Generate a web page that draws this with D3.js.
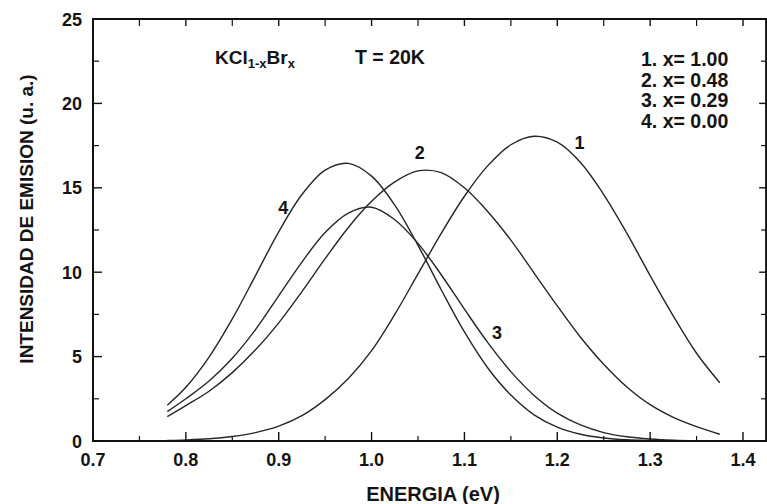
<!DOCTYPE html>
<html>
<head>
<meta charset="utf-8">
<script src="https://cdn.jsdelivr.net/npm/d3@7"></script>
<style>
  body { margin: 0; background: #fff; }
  svg { display: block; }
  text { font-family: "Liberation Sans", Arial, sans-serif; font-weight: bold; fill: #141414; }
</style>
</head>
<body>
<svg id="chart" width="767" height="504"></svg>
<script>
var energia = [0.78, 0.80, 0.825, 0.85, 0.875, 0.90, 0.925, 0.95, 0.975, 1.00, 1.025, 1.05, 1.075,
  1.10, 1.125, 1.15, 1.175, 1.20, 1.225, 1.25, 1.275, 1.30, 1.325, 1.35, 1.375];

// intensity (u. a.) per composition
var curva1 = [0.03, 0.06, 0.13, 0.27, 0.5, 0.88, 1.5, 2.45, 3.7, 5.35, 7.5, 9.9, 12.3,
  14.5, 16.3, 17.55, 18.05, 17.7, 16.5, 14.6, 12.3, 9.8, 7.4, 5.2, 3.45];
var curva2 = [1.44, 2.1, 2.95, 4.05, 5.4, 7.0, 8.85, 10.8, 12.65, 14.2, 15.35, 16.0, 15.9,
  15.0, 13.6, 11.9, 9.95, 8.0, 6.15, 4.55, 3.2, 2.15, 1.4, 0.85, 0.4];
var curva3 = [1.74, 2.5, 3.55, 4.9, 6.6, 8.6, 10.6, 12.35, 13.5, 13.85, 13.11, 11.71, 9.85,
  7.81, 5.84, 4.11, 2.7, 1.65, 0.95, 0.5, 0.25, 0.12, 0.05, 0.02, 0.01];
var curva4 = [2.12, 3.18, 4.97, 7.23, 9.8, 12.39, 14.6, 16.05, 16.45, 15.69, 13.97, 11.59, 8.96,
  6.46, 4.34, 2.72, 1.55, 0.82, 0.4, 0.18, 0.07, 0.03, 0.01, 0, 0];

var xTicks = [0.7, 0.8, 0.9, 1.0, 1.1, 1.2, 1.3, 1.4];
var yTicks = [0, 5, 10, 15, 20, 25];
var leyenda = ["1. x= 1.00", "2. x= 0.48", "3. x= 0.29", "4. x= 0.00"];
// curve number labels: [label, energy, intensity] at the baseline
var etiquetas = [["1", 1.224, 17.3], ["2", 1.052, 16.7], ["3", 1.135, 6.05], ["4", 0.905, 13.45]];

var svg = d3.select("#chart");
// careful: "top" is taken by window.top, so plot edges get their own names
var pLeft = 93, pTop = 19, pBottom = 441;

var x = d3.scaleLinear().domain([0.7, 1.4]).range([pLeft, 743]);
var y = d3.scaleLinear().domain([0, 25]).range([pBottom, pTop]);
var pRight = x(1.4249);

// curves
var line = d3.line()
  .x(function(d) { return x(d[0]); })
  .y(function(d) { return y(Math.max(0, d[1])); })
  .curve(d3.curveCatmullRom.alpha(0.5));

[curva1, curva2, curva3, curva4].forEach(function(serie) {
  svg.append("path")
    .datum(energia.map(function(e, i) { return [e, serie[i]]; }))
    .attr("d", line)
    .attr("fill", "none")
    .attr("stroke", "#262626")
    .attr("stroke-width", 1.4);
});

// frame
var ax = svg.append("g").attr("stroke", "#111").attr("fill", "none");
ax.append("rect")
  .attr("x", pLeft).attr("y", pTop)
  .attr("width", pRight - pLeft).attr("height", pBottom - pTop)
  .attr("stroke-width", 2);

// ticks, all pointing inward
var xMinor = d3.range(0.75, 1.42, 0.1);
var yMinor = d3.range(2.5, 25, 5);
xTicks.forEach(function(t) {
  ax.append("line").attr("x1", x(t)).attr("x2", x(t)).attr("y1", pBottom).attr("y2", pBottom - 9).attr("stroke-width", 1.4);
  ax.append("line").attr("x1", x(t)).attr("x2", x(t)).attr("y1", pTop).attr("y2", pTop + 7).attr("stroke-width", 1.4);
});
xMinor.forEach(function(t) {
  ax.append("line").attr("x1", x(t)).attr("x2", x(t)).attr("y1", pBottom).attr("y2", pBottom - 5).attr("stroke-width", 1.2);
  ax.append("line").attr("x1", x(t)).attr("x2", x(t)).attr("y1", pTop).attr("y2", pTop + 7).attr("stroke-width", 1.2);
});
yTicks.forEach(function(t) {
  ax.append("line").attr("x1", pLeft).attr("x2", pLeft + 9).attr("y1", y(t)).attr("y2", y(t)).attr("stroke-width", 1.4);
  ax.append("line").attr("x1", pRight).attr("x2", pRight - 7).attr("y1", y(t)).attr("y2", y(t)).attr("stroke-width", 1.4);
});
yMinor.forEach(function(t) {
  ax.append("line").attr("x1", pLeft).attr("x2", pLeft + 6).attr("y1", y(t)).attr("y2", y(t)).attr("stroke-width", 1.2);
  ax.append("line").attr("x1", pRight).attr("x2", pRight - 5).attr("y1", y(t)).attr("y2", y(t)).attr("stroke-width", 1.2);
});

// tick labels
svg.selectAll(".xl").data(xTicks).join("text")
  .attr("x", function(d) { return x(d); })
  .attr("y", 466)
  .attr("text-anchor", "middle")
  .attr("font-size", 18)
  .text(function(d) { return d3.format(".1f")(d); });

svg.selectAll(".yl").data(yTicks).join("text")
  .attr("x", 82)
  .attr("y", function(d) { return y(d) + 6.5; })
  .attr("text-anchor", "end")
  .attr("font-size", 18)
  .text(function(d) { return d; });

// axis titles
svg.append("text")
  .attr("x", 433).attr("y", 501)
  .attr("text-anchor", "middle")
  .attr("font-size", 20)
  .text("ENERGIA (eV)");

svg.append("text")
  .attr("transform", "translate(33,219) rotate(-90)")
  .attr("text-anchor", "middle")
  .attr("font-size", 19)
  .text("INTENSIDAD DE EMISION (u. a.)");

// compound and temperature
var comp = svg.append("text").attr("x", 215).attr("y", 64).attr("font-size", 19);
comp.append("tspan").text("KCl");
comp.append("tspan").attr("font-size", 13).attr("dy", 4).text("1-x");
comp.append("tspan").attr("dy", -4).text("Br");
comp.append("tspan").attr("font-size", 13).attr("dy", 4).text("x");

svg.append("text").attr("x", 355).attr("y", 64).attr("font-size", 19.5).text("T = 20K");

// legend
svg.selectAll(".ley").data(leyenda).join("text")
  .attr("x", 641)
  .attr("y", function(d, i) { return 66 + i * 20.6; })
  .attr("font-size", 19.5)
  .text(function(d) { return d; });

// curve numbers
svg.selectAll(".num").data(etiquetas).join("text")
  .attr("x", function(d) { return x(d[1]); })
  .attr("y", function(d) { return y(d[2]); })
  .attr("text-anchor", "middle")
  .attr("font-size", 18)
  .text(function(d) { return d[0]; });
</script>
</body>
</html>
